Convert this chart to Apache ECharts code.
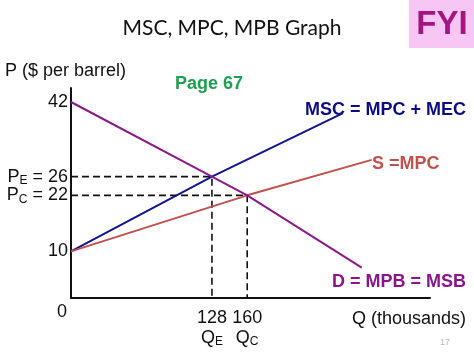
<!DOCTYPE html>
<html>
<head>
<meta charset="utf-8">
<script src="https://cdn.jsdelivr.net/npm/echarts@6/dist/echarts.min.js"></script>
<style>html,body{margin:0;padding:0;background:#fff}#c{width:474px;height:355px}</style>
</head>
<body>
<div id="c"></div>
<script>
// ---- data ----
const yTickValues = [10, 22, 26, 42];
const yTickLabels = { 10: '{p|10}', 22: '{p|P}{s|C}{p| = 22}', 26: '{p|P}{s|E}{p| = 26}', 42: '{p|42}' };
const xTickValues = [128, 160];
const xTickLabels = { 128: '{n|128}\n{q|Q}{s|E}', 160: '{n|160}\n{q|Q}{s|C}' };
const mscLine = [[0, 10], [128, 26], [247, 39.6]];
const mpcLine = [[0, 10], [160, 22], [273, 29.6]];
const demandLine = [[0, 42], [128, 26], [160, 22], [264, 6.5]];
const eqDash = [[0, 26], [128, 26], [128, 0]];
const compDash = [[0, 22], [160, 22], [160, 0]];

const FONT = 'Liberation Sans';
const chart = echarts.init(document.getElementById('c'), null, { renderer: 'canvas' });
const dashStyle = { color: '#111', width: 1.6, type: [7, 4] };
chart.setOption({
  backgroundColor: '#fff',
  animation: false,
  grid: { left: 71, right: 44, top: 88, bottom: 57, containLabel: false },
  xAxis: {
    type: 'value', min: 0, max: 326,
    axisLine: { show: true, lineStyle: { color: '#111', width: 2 } },
    axisTick: { show: false },
    splitLine: { show: false },
    axisLabel: {
      customValues: xTickValues,
      formatter: v => xTickLabels[v] || '',
      margin: 10,
      fontFamily: FONT, color: '#111',
      rich: {
        n: { fontSize: 18, fontFamily: FONT, color: '#111', lineHeight: 20 },
        q: { fontSize: 18, fontFamily: FONT, color: '#111', lineHeight: 20 },
        s: { fontSize: 12, fontFamily: FONT, color: '#111', padding: [8, 0, 0, 0] }
      }
    }
  },
  yAxis: {
    type: 'value', min: 0, max: 45,
    axisLine: { show: true, lineStyle: { color: '#111', width: 2 } },
    axisTick: { show: false },
    splitLine: { show: false },
    axisLabel: {
      customValues: yTickValues,
      formatter: v => yTickLabels[v] || '',
      margin: 3,
      fontFamily: FONT, color: '#111',
      rich: {
        p: { fontSize: 18, fontFamily: FONT, color: '#111' },
        s: { fontSize: 12, fontFamily: FONT, color: '#111', padding: [9, 0, 0, 0] }
      }
    }
  },
  series: [
    { type: 'line', data: eqDash, showSymbol: false, lineStyle: dashStyle, z: 1 },
    { type: 'line', data: compDash, showSymbol: false, lineStyle: dashStyle, z: 1 },
    { type: 'line', data: mscLine, showSymbol: false, lineStyle: { color: '#14148c', width: 2 }, z: 3 },
    { type: 'line', data: mpcLine, showSymbol: false, lineStyle: { color: '#c2504e', width: 2 }, z: 3 },
    { type: 'line', data: demandLine, showSymbol: false, lineStyle: { color: '#8a1a8a', width: 2 }, z: 3 }
  ],
  graphic: [
    { type: 'text', x: 232, y: 28, style: { text: 'MSC, MPC, MPB Graph', font: '21px Lato', fill: '#111', align: 'center', verticalAlign: 'middle' } },
    { type: 'rect', shape: { x: 409, y: 0, width: 65, height: 48 }, style: { fill: '#f8c6f4' } },
    { type: 'text', x: 442, y: 25, style: { text: 'FYI', font: 'bold 33px "Liberation Sans"', fill: '#a3167f', align: 'center', verticalAlign: 'middle' } },
    { type: 'text', x: 5, y: 71, style: { text: 'P ($ per barrel)', font: '18px "Liberation Sans"', fill: '#111', align: 'left', verticalAlign: 'middle' } },
    { type: 'text', x: 209, y: 84, style: { text: 'Page 67', font: 'bold 18px "Liberation Sans"', fill: '#1e9e50', align: 'center', verticalAlign: 'middle' } },
    { type: 'text', x: 466, y: 110, style: { text: 'MSC = MPC + MEC', font: 'bold 18px "Liberation Sans"', fill: '#0c0c80', align: 'right', verticalAlign: 'middle' } },
    { type: 'text', x: 372, y: 164, style: { text: 'S =MPC', font: 'bold 18px "Liberation Sans"', fill: '#c2504e', align: 'left', verticalAlign: 'middle' } },
    { type: 'text', x: 466, y: 282, style: { text: 'D = MPB = MSB', font: 'bold 18px "Liberation Sans"', fill: '#8b138b', align: 'right', verticalAlign: 'middle' } },
    { type: 'text', x: 62, y: 312, style: { text: '0', font: '18px "Liberation Sans"', fill: '#111', align: 'center', verticalAlign: 'middle' } },
    { type: 'text', x: 466, y: 319, style: { text: 'Q (thousands)', font: '18px "Liberation Sans"', fill: '#111', align: 'right', verticalAlign: 'middle' } },
    { type: 'text', x: 445, y: 343, style: { text: '17', font: '9px "Liberation Sans"', fill: '#b8b8b8', align: 'center', verticalAlign: 'middle' } }
  ]
});
</script>
</body>
</html>
